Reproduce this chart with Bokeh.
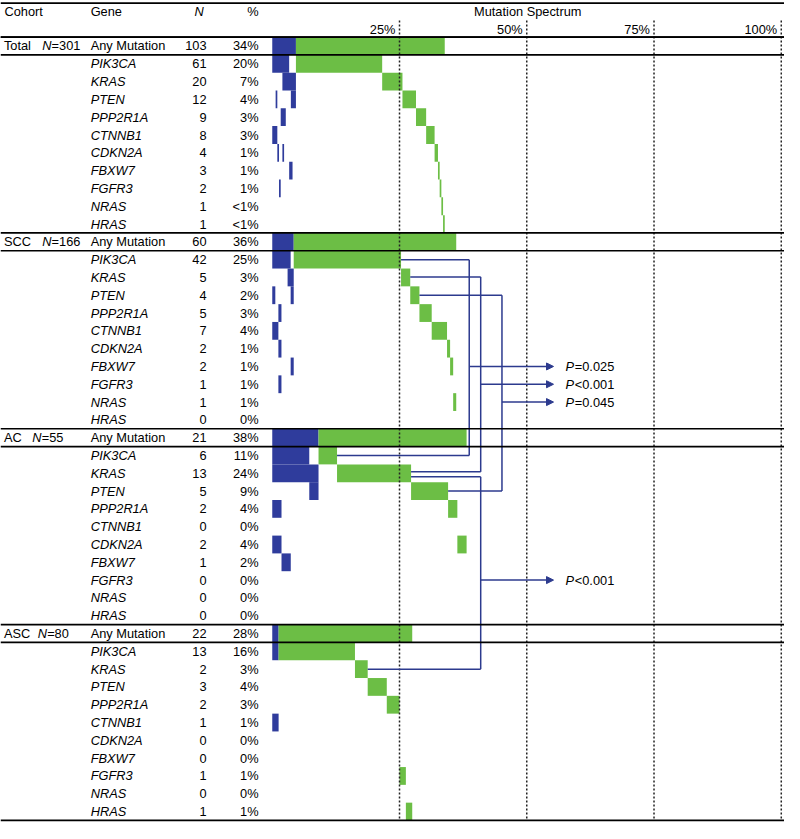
from bokeh.plotting import figure
from bokeh.models import Range1d, Span, Arrow, NormalHead, ColumnDataSource
from bokeh.core.properties import value
from bokeh.embed import file_html
from bokeh.resources import INLINE

# ---------------- data ----------------
genes = ["PIK3CA", "KRAS", "PTEN", "PPP2R1A", "CTNNB1", "CDKN2A", "FBXW7", "FGFR3", "NRAS", "HRAS"]
cohorts = ["Total", "SCC", "AC", "ASC"]
cohort_size = [301, 166, 55, 80]
any_count = [103, 60, 21, 22]
any_pct = ["34%", "36%", "38%", "28%"]

total_count = [61, 20, 12, 9, 8, 4, 3, 2, 1, 1]
total_pct = ["20%", "7%", "4%", "3%", "3%", "1%", "1%", "1%", "<1%", "<1%"]
scc_count = [42, 5, 4, 5, 7, 2, 2, 1, 1, 0]
scc_pct = ["25%", "3%", "2%", "3%", "4%", "1%", "1%", "1%", "1%", "0%"]
ac_count = [6, 13, 5, 2, 0, 2, 1, 0, 0, 0]
ac_pct = ["11%", "24%", "9%", "4%", "0%", "4%", "2%", "0%", "0%", "0%"]
asc_count = [13, 2, 3, 2, 1, 0, 0, 1, 0, 1]
asc_pct = ["16%", "3%", "4%", "3%", "1%", "0%", "0%", "1%", "0%", "1%"]

# mutation spectrum: samples with >1 mutation (blue, first columns) and
# samples with a single mutation (green, waterfall)
comut_samples = [14, 7, 5, 1]
total_single = [51, 12, 8, 6, 5, 2, 1, 1, 1, 1]
scc_single = [35, 3, 3, 4, 5, 1, 1, 0, 1, 0]
ac_single = [2, 8, 4, 1, 0, 1, 0, 0, 0, 0]
asc_single = [12, 2, 3, 2, 0, 0, 0, 1, 0, 1]

# which co-mutated sample columns carry each gene
total_comut = [[0, 1, 2, 3, 4, 5, 6, 7, 8, 9], [6, 7, 8, 9, 10, 11, 12, 13], [2, 11, 12, 13],
               [5, 6, 7], [0, 1, 2], [3, 6], [10, 11], [4], [], []]
scc_comut = [[0, 1, 2, 3, 4, 5], [5, 6], [0, 6], [2], [0, 1], [2], [6], [2], [], []]
ac_comut = [[0, 1, 2, 3], [0, 1, 2, 3, 4], [4], [0], [], [0], [1], [], [], []]
asc_comut = [[0], [], [], [], [0], [], [], [], [], []]

# comparisons
cmp_gene = ["PIK3CA", "KRAS", "PTEN", "KRAS"]
cmp_from = ["SCC", "SCC", "SCC", "AC"]
cmp_to = ["AC", "AC", "AC", "ASC"]
cmp_sign = ["=", "<", "=", "<"]
cmp_p = ["0.025", "0.001", "0.045", "0.001"]

spectrum_ticks = [25, 50, 75, 100]
tick_labels = ["25%", "50%", "75%", "100%"]

counts = [total_count, scc_count, ac_count, asc_count]
pcts = [total_pct, scc_pct, ac_pct, asc_pct]
singles = [total_single, scc_single, ac_single, asc_single]
comuts = [total_comut, scc_comut, ac_comut, asc_comut]

# ---------------- layout ----------------
X0, PXP = 277.3, 5.194      # reference pixel of 0 %, pixels per %
Y0, RH = 37.3, 18.15        # reference pixel of first row top, row height


def hx(px):
    return (px - X0) / PXP


def vy(py):
    return (py - Y0) / RH


BLUE = "#2F3C9C"
GREEN = "#6CBE45"
NAVY = "#2C3A8E"
FONT = value("Liberation Sans")
FS = "12.8px"
NG = len(genes)

p = figure(width=784, height=823,
           x_range=Range1d(hx(0), hx(800)), y_range=Range1d(vy(839), vy(0)),
           output_backend="svg", toolbar_location=None,
           x_axis_location=None, y_axis_location=None,
           min_border=0, min_border_left=0, min_border_right=0,
           min_border_top=0, min_border_bottom=0)
p.grid.visible = False
p.outline_line_color = None
p.background_fill_color = "white"


def row_of(g, j):
    return (NG + 1) * g + (0 if j < 0 else j + 1)


def runs(idx):
    out = []
    for i in sorted(idx):
        if out and out[-1][1] == i:
            out[-1][1] = i + 1
        else:
            out.append([i, i + 1])
    return out


blue = dict(left=[], right=[], top=[], bottom=[])
green = dict(left=[], right=[], top=[], bottom=[])


def add_bar(d, l, r, row):
    d["left"].append(l)
    d["right"].append(r)
    d["top"].append(row)
    d["bottom"].append(row + 1)


def green_end(g, j):
    n = cohort_size[g]
    return (comut_samples[g] + sum(singles[g][:j + 1])) / n * 100


for g in range(len(cohorts)):
    n = cohort_size[g]
    m = comut_samples[g]
    r = row_of(g, -1)
    add_bar(blue, 0, m / n * 100, r)
    add_bar(green, m / n * 100, (m + sum(singles[g])) / n * 100, r)
    for j in range(NG):
        r = row_of(g, j)
        for a, b in runs(comuts[g][j]):
            add_bar(blue, a / n * 100, b / n * 100, r)
        if singles[g][j] > 0:
            start = (m + sum(singles[g][:j])) / n * 100
            add_bar(green, start, green_end(g, j), r)

p.quad(source=ColumnDataSource(blue), left="left", right="right", top="top", bottom="bottom",
       fill_color=BLUE, line_color=None)
p.quad(source=ColumnDataSource(green), left="left", right="right", top="top", bottom="bottom",
       fill_color=GREEN, line_color=None)

# dotted reference lines
nrows = (NG + 1) * len(cohorts)
p.segment(x0=spectrum_ticks, x1=spectrum_ticks, y0=[vy(20.5)] * 4, y1=[nrows] * 4,
          line_color="#222222", line_width=1.5, line_dash="2 2")

# horizontal rules
rule_rows = [vy(2.7), 0]
for g in range(len(cohorts)):
    rule_rows += [row_of(g, -1), row_of(g, -1) + 1]
rule_rows.append(nrows)
for rr in rule_rows:
    p.add_layout(Span(location=rr, dimension="width", line_color="black", line_width=1.7))

# comparison brackets
br_x = [hx(478.3), hx(490.0), hx(511.7), hx(490.0)]
br_top_off = [0.0, -0.03, 0.0, 0.2]
br_bot_off = [0.0, -0.08, 0.0, 0.0]
br_arrow_row = [18, 19, 20, 30]
arrow_tip = hx(564.3)
seg = dict(x0=[], y0=[], x1=[], y1=[])
texts = {}


def add_text(x, y, t, align="left", style="normal"):
    d = texts.setdefault((align, style), dict(x=[], y=[], t=[]))
    d["x"].append(x)
    d["y"].append(y)
    d["t"].append(t)


for c in range(len(cmp_gene)):
    j = genes.index(cmp_gene[c])
    ga = cohorts.index(cmp_from[c])
    gb = cohorts.index(cmp_to[c])
    ya = row_of(ga, j) + 0.5 + br_top_off[c]
    yb = row_of(gb, j) + 0.5 + br_bot_off[c]
    xa = green_end(ga, j)
    xb = green_end(gb, j)
    vx = br_x[c]
    for (a0, b0, a1, b1) in [(xa, ya, vx, ya), (vx, ya, vx, yb), (vx, yb, xb, yb)]:
        seg["x0"].append(a0)
        seg["y0"].append(b0)
        seg["x1"].append(a1)
        seg["y1"].append(b1)
    ay = br_arrow_row[c] + 0.5
    p.add_layout(Arrow(end=NormalHead(size=7, fill_color=NAVY, line_color=NAVY, line_width=1),
                       x_start=vx, y_start=ay, x_end=arrow_tip, y_end=ay,
                       line_color=NAVY, line_width=1.5))
    add_text(hx(576.5), ay, "P", style="italic")
    add_text(hx(586.0), ay, cmp_sign[c] + cmp_p[c])

p.segment(source=ColumnDataSource(seg), x0="x0", y0="y0", x1="x1", y1="y1",
          line_color=NAVY, line_width=1.5)

# header
hy = vy(11.5)
add_text(hx(4), hy, "Cohort")
add_text(hx(92), hy, "Gene")
add_text(hx(207.5), hy, "N", "right", "italic")
add_text(hx(263.3), hy, "%", "right")
add_text(hx(538), hy, "Mutation Spectrum", "center")
for t, lab in zip(spectrum_ticks, tick_labels):
    add_text(t - 0.8, vy(29.5), lab, "right")

# table body
label_name_x = [3.5, 3.5, 3.5, 3.5]
label_n_x = [42.5, 42.5, 32.5, 38.0]
for g in range(len(cohorts)):
    r = row_of(g, -1) + 0.5
    add_text(hx(label_name_x[g]), r, cohorts[g])
    add_text(hx(label_n_x[g]), r, "N", style="italic")
    add_text(hx(label_n_x[g] + 9.6), r, "=" + str(cohort_size[g]))
    add_text(hx(92), r, "Any Mutation")
    add_text(hx(210.3), r, str(any_count[g]), "right")
    add_text(hx(263.3), r, any_pct[g], "right")
    for j in range(NG):
        rj = row_of(g, j) + 0.5
        add_text(hx(92), rj, genes[j], style="italic")
        add_text(hx(210.3), rj, str(counts[g][j]), "right")
        add_text(hx(263.3), rj, pcts[g][j], "right")

for (align, style), d in texts.items():
    p.text(source=ColumnDataSource(d), x="x", y="y", text="t",
           text_align=align, text_baseline="middle", text_font=FONT,
           text_font_size=FS, text_font_style=style, text_color="black")

open("out.html", "w").write(file_html(p, INLINE))
